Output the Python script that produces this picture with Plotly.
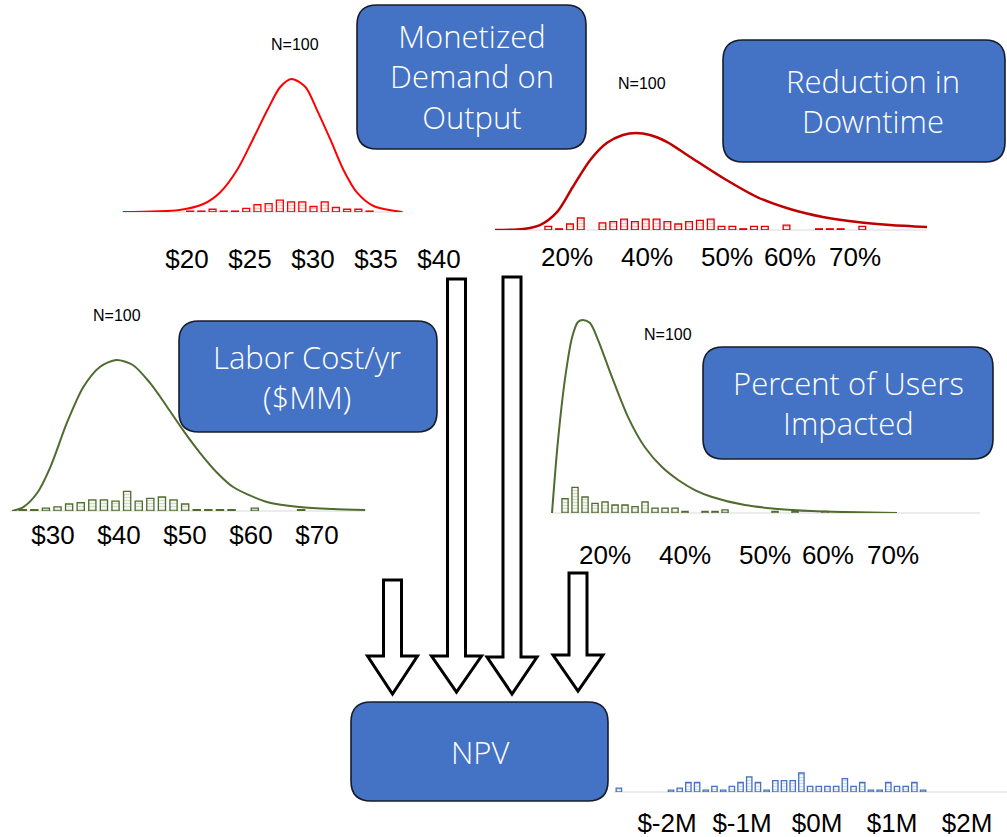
import plotly.graph_objects as go

W, H = 1007, 837

# ---------------- data ----------------
# Monetized demand on output ($)
demand_curve_x = [14.9, 19.4, 21.3, 22.6, 24.0, 25.2, 26.4, 27.4, 28.3, 29.4, 30.3, 31.4, 32.4, 33.5, 34.8, 37.1]
demand_curve_y = [0.0, 0.015, 0.06, 0.145, 0.32, 0.54, 0.77, 0.94, 1.0, 0.94, 0.77, 0.54, 0.32, 0.145, 0.045, 0.0]
demand_bin_start, demand_bin_width = 20.25, 0.89
demand_counts = [1, 1, 3, 1, 1, 4, 8, 9, 13, 11, 11, 6, 11, 5, 3, 3, 1]
demand_tick_vals = [20, 25, 30, 35, 40]
demand_tick_text = ["$20", "$25", "$30", "$35", "$40"]

# Reduction in downtime (%)
downtime_curve_x = [7.5, 12.4, 15.3, 18.3, 21.0, 24.0, 26.9, 29.7, 32.0, 34.4, 37.4, 41.4, 47.1, 53.0,
                    58.7, 64.4, 70.4, 76.1, 82.5]
downtime_curve_y = [0.0, 0.01, 0.05, 0.186, 0.443, 0.72, 0.897, 0.98, 1.0, 0.98, 0.907, 0.753, 0.536, 0.34,
                    0.216, 0.134, 0.082, 0.052, 0.031]
downtime_bin_start, downtime_bin_width = 16.75, 1.88
downtime_counts = [3, 1, 5, 10, 0, 6, 7, 9, 7, 9, 9, 7, 5, 7, 8, 9, 3, 3, 1, 3, 3, 0, 4, 0, 0, 1, 1, 1, 0, 3]
pct_tick_vals = [20, 33.9, 47.8, 58.7, 70]
pct_tick_text = ["20%", "40%", "50%", "60%", "70%"]

# Labor cost per year ($MM)
labor_curve_x = [23.8, 25.5, 27.6, 29.6, 32.1, 34.6, 37.1, 39.6, 42.1, 44.7, 47.3, 49.7, 52.3, 54.9,
                 57.3, 62.4, 67.4, 72.4, 77.3]
labor_curve_y = [0.0, 0.026, 0.119, 0.291, 0.583, 0.821, 0.954, 1.0, 0.967, 0.848, 0.689, 0.536, 0.384,
                 0.252, 0.159, 0.06, 0.026, 0.013, 0.007]
labor_bin_start, labor_bin_width = 25.41, 1.758
labor_counts = [1, 1, 2, 3, 5, 6, 8, 8, 7, 14, 7, 9, 10, 8, 5, 1, 1, 1, 1, 0, 2, 0, 0, 0, 1]
labor_tick_vals = [30, 40, 50, 60, 70]
labor_tick_text = ["$30", "$40", "$50", "$60", "$70"]

# Percent of users impacted (%)
users_curve_x = [10.8, 11.8, 13.1, 14.3, 15.3, 16.2, 17.4, 18.8, 21.2, 24.0, 26.9, 29.9, 32.7, 35.6,
                 38.6, 44.3, 50.0, 55.9, 61.7, 70.7]
users_curve_y = [0.0, 0.363, 0.705, 0.912, 0.99, 1.0, 0.984, 0.896, 0.705, 0.497, 0.342, 0.238, 0.171,
                 0.119, 0.083, 0.041, 0.021, 0.01, 0.005, 0.0]
users_bin_start, users_bin_width = 13.06, 1.736
users_counts = [9, 16, 10, 6, 7, 5, 5, 4, 7, 3, 3, 3, 1, 0, 1, 1, 2, 0, 0, 0, 0, 1, 0, 1, 0, 0, 1]

# NPV ($M)
npv_bin_start, npv_bin_width = -2.642, 0.1159
npv_counts = [2, 0, 0, 0, 0, 0, 1, 2, 5, 5, 1, 3, 1, 3, 5, 8, 5, 1, 6, 6, 6, 10, 3, 3, 3, 3, 7, 3, 5,
              1, 1, 5, 3, 3, 5, 1]
npv_tick_vals = [-2, -1, 0, 1, 2]
npv_tick_text = ["$-2M", "$-1M", "$0M", "$1M", "$2M"]

# ---------------- styling / placement (pixels) ----------------
RED, DARKRED, GREEN, BLUE = "#FF0000", "#C00000", "#4F6B2F", "#4472C4"

panels = [
    dict(curve=(demand_curve_x, demand_curve_y), bins=(demand_bin_start, demand_bin_width, demand_counts),
         ticks=(demand_tick_vals, demand_tick_text), line=RED, lw=2, edge=RED, tint="#FF8A8A",
         left=115, right=478, base=212, top=60, p_ref=187, v_ref=20, k=12.6, peak=133, per_count=0.92,
         standoff=29, span=(123, 402)),
    dict(curve=(downtime_curve_x, downtime_curve_y), bins=(downtime_bin_start, downtime_bin_width, downtime_counts),
         ticks=(pct_tick_vals, pct_tick_text), line=DARKRED, lw=2.5, edge="#E00000", tint="#FF8A8A",
         left=490, right=935, base=230, top=120, p_ref=567, v_ref=20, k=5.76, peak=97, per_count=1.2,
         standoff=9, span=(495, 927)),
    dict(curve=(labor_curve_x, labor_curve_y), bins=(labor_bin_start, labor_bin_width, labor_counts),
         ticks=(labor_tick_vals, labor_tick_text), line=GREEN, lw=2, edge=GREEN, tint="#A3B68E",
         left=5, right=375, base=511, top=340, p_ref=53, v_ref=30, k=6.6, peak=151, per_count=1.4,
         standoff=6, span=(10, 365)),
    dict(curve=(users_curve_x, users_curve_y), bins=(users_bin_start, users_bin_width, users_counts),
         ticks=(pct_tick_vals, pct_tick_text), line=GREEN, lw=2, edge=GREEN, tint="#A3B68E",
         left=545, right=990, base=513, top=300, p_ref=605, v_ref=20, k=5.76, peak=193, per_count=1.6,
         standoff=24, span=(552, 980)),
    dict(curve=None, bins=(npv_bin_start, npv_bin_width, npv_counts),
         ticks=(npv_tick_vals, npv_tick_text), line=BLUE, lw=2, edge=BLUE, tint="#9DB5E0",
         left=605, right=1006, base=792, top=740, p_ref=817, v_ref=0, k=75, peak=None, per_count=1.9,
         standoff=13, span=(614, 1007)),
]


def fx(px):
    return px / W


def fy(py):
    return 1 - py / H


fig = go.Figure()
layout_axes = {}
shapes = []

for i, p in enumerate(panels):
    n = i + 1
    xid = "x" if n == 1 else f"x{n}"
    yid = "y" if n == 1 else f"y{n}"
    xkey = "xaxis" if n == 1 else f"xaxis{n}"
    ykey = "yaxis" if n == 1 else f"yaxis{n}"
    bar_n = n + len(panels)
    bar_yid, bar_ykey = f"y{bar_n}", f"yaxis{bar_n}"

    x_range = [p["v_ref"] + (p["left"] - p["p_ref"]) / p["k"], p["v_ref"] + (p["right"] - p["p_ref"]) / p["k"]]
    height_px = p["base"] - p["top"]
    layout_axes[xkey] = dict(
        domain=[fx(p["left"]), fx(p["right"])], range=x_range, anchor=yid,
        showgrid=False, zeroline=False, showline=False, ticks="",
        tickvals=p["ticks"][0], ticktext=p["ticks"][1], tickangle=0,
        tickfont=dict(family="Arial, Liberation Sans", size=26, color="#000000"),
        ticklabelstandoff=p["standoff"], fixedrange=True,
    )

    bin_start, bin_width, counts = p["bins"]
    centers = [bin_start + bin_width * j for j in range(len(counts))]
    bx = [c for c, v in zip(centers, counts) if v > 0]
    by = [v for v in counts if v > 0]

    if p["curve"] is not None:
        layout_axes[ykey] = dict(domain=[fy(p["base"]), fy(p["top"])], range=[0, height_px / p["peak"]],
                                 anchor=xid, visible=False, fixedrange=True)
        layout_axes[bar_ykey] = dict(overlaying=yid, anchor=xid, range=[0, height_px / p["per_count"]],
                                     visible=False, fixedrange=True)
        cx, cy = p["curve"]
        fig.add_trace(go.Scatter(x=cx, y=cy, mode="lines", xaxis=xid, yaxis=yid,
                                 line=dict(color=p["line"], width=p["lw"], shape="spline", smoothing=0.8),
                                 hoverinfo="skip", showlegend=False))
        bar_axis = bar_yid
    else:
        layout_axes[ykey] = dict(domain=[fy(p["base"]), fy(p["top"])], range=[0, height_px / p["per_count"]],
                                 anchor=xid, visible=False, fixedrange=True)
        bar_axis = yid

    fig.add_trace(go.Bar(
        x=bx, y=by, xaxis=xid, yaxis=bar_axis, width=bin_width * 0.62,
        marker=dict(color="white", line=dict(color=p["edge"], width=1.3),
                    pattern=dict(shape="-", fgcolor=p["tint"], bgcolor="white", size=3, solidity=0.5)),
        hoverinfo="skip", showlegend=False))

    # light grey baseline under each distribution
    shapes.append(dict(type="line", xref="paper", yref="paper", layer="below",
                       x0=fx(p["span"][0]), x1=fx(p["span"][1]), y0=fy(p["base"]), y1=fy(p["base"]),
                       line=dict(color="#D9D9D9", width=1)))


# ---------------- rounded labelled boxes ----------------
def rounded_box(x0, y0, x1, y1, r=20):
    rx, ry = r / W, r / H
    a, b, c, d = fx(x0), fx(x1), fy(y0), fy(y1)
    return (f"M {a + rx},{c} L {b - rx},{c} Q {b},{c} {b},{c - ry} L {b},{d + ry} Q {b},{d} {b - rx},{d} "
            f"L {a + rx},{d} Q {a},{d} {a},{d + ry} L {a},{c - ry} Q {a},{c} {a + rx},{c} Z")


boxes = [
    dict(x0=357, y0=5, x1=586, y1=149, tx=472, text="Monetized<br>Demand on<br>Output"),
    dict(x0=723, y0=40, x1=1005, y1=162, tx=873, text="Reduction in<br>Downtime"),
    dict(x0=179, y0=321, x1=437, y1=432, tx=307, text="Labor Cost/yr<br>($MM)"),
    dict(x0=703, y0=347, x1=993, y1=459, tx=848, text="Percent of Users<br>Impacted"),
    dict(x0=351, y0=702, x1=608, y1=801, tx=480, text="NPV"),
]

annotations = []
for b in boxes:
    shapes.append(dict(type="path", xref="paper", yref="paper", layer="above",
                       path=rounded_box(b["x0"], b["y0"], b["x1"], b["y1"]),
                       fillcolor=BLUE, line=dict(color="#161C29", width=1.6)))
    annotations.append(dict(xref="paper", yref="paper", x=fx(b["tx"]), y=fy((b["y0"] + b["y1"]) / 2),
                            text=b["text"], showarrow=False, xanchor="center", yanchor="middle",
                            font=dict(family="Open Sans Light, Open Sans", size=31, color="white",
                                      weight=300)))


# ---------------- block arrows into NPV ----------------
def block_arrow(cx, top, head_base, tip, shaft=18, head=25):
    pts = [(cx - shaft / 2, top), (cx + shaft / 2, top), (cx + shaft / 2, head_base), (cx + head, head_base),
           (cx, tip), (cx - head, head_base), (cx - shaft / 2, head_base)]
    return "M " + " L ".join(f"{fx(x)},{fy(y)}" for x, y in pts) + " Z"


arrows = [(392.5, 580, 656, 694), (456.5, 279, 656, 692), (512, 277, 657, 694), (578, 573, 655, 691)]
for cx, top, hb, tip in arrows:
    shapes.append(dict(type="path", xref="paper", yref="paper", layer="above",
                       path=block_arrow(cx, top, hb, tip), fillcolor="white",
                       line=dict(color="black", width=3)))

# sample-size labels
for x, y in [(295, 44), (642, 83), (117, 315), (668, 335)]:
    annotations.append(dict(xref="paper", yref="paper", x=fx(x), y=fy(y), text="N=100", showarrow=False,
                            xanchor="center", yanchor="middle",
                            font=dict(family="Arial, Liberation Sans", size=16, color="black")))

fig.update_layout(
    width=W, height=H, margin=dict(l=0, r=0, t=0, b=0),
    paper_bgcolor="white", plot_bgcolor="rgba(0,0,0,0)",
    showlegend=False, barmode="overlay",
    shapes=shapes, annotations=annotations,
    **layout_axes,
)

fig.write_html("out.html", config={"displayModeBar": False})
